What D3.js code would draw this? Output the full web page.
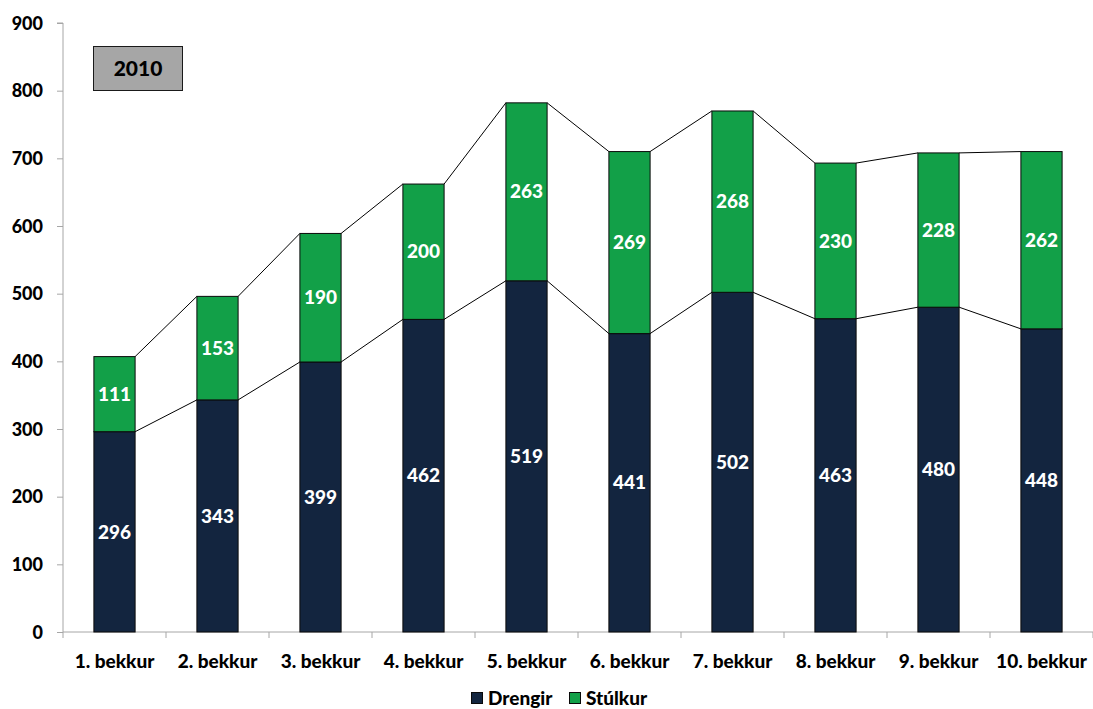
<!DOCTYPE html>
<html><head><meta charset="utf-8">
<script src="https://cdn.jsdelivr.net/npm/d3@7"></script>
<style>
html,body{margin:0;padding:0;background:#fff;}
svg text{font-family:Lato,"Open Sans",sans-serif;font-weight:900;}
</style></head>
<body>
<svg id="c" width="1093" height="709"></svg>
<script>
const categories = ["1. bekkur","2. bekkur","3. bekkur","4. bekkur","5. bekkur","6. bekkur","7. bekkur","8. bekkur","9. bekkur","10. bekkur"];
const drengir = [296,343,399,462,519,441,502,463,480,448];
const stulkur = [111,153,190,200,263,269,268,230,228,262];
const seriesNames = ["Drengir","Stúlkur"];
const seriesColors = ["#13253f","#12a048"];
const yTicks = [0,100,200,300,400,500,600,700,800,900];
const title = "2010";

const svg = d3.select("#c");
const x = d3.scaleBand().domain(categories).range([63,1093]);
const y = d3.scaleLinear().domain([0,900]).range([632,23]);
const bw = x.step()*0.4;
const cx = c => x(c) + x.step()/2;

// axes
const yAxis = svg.append("g").attr("transform","translate(63,0)")
  .call(d3.axisLeft(y).tickValues(yTicks).tickSize(6).tickPadding(14).tickFormat(d3.format("d")));
yAxis.select(".domain").attr("stroke","#a6a6a6").attr("d","M-6,"+y(900)+"H0V"+y(0));
yAxis.selectAll(".tick line").attr("stroke","#a6a6a6");
yAxis.selectAll(".tick text").attr("fill","#000").attr("font-size",18).attr("dy","0.35em").attr("y",0);

const xg = svg.append("g");
xg.append("line").attr("x1",63).attr("x2",1093).attr("y1",y(0)).attr("y2",y(0)).attr("stroke","#a6a6a6");
const bounds = categories.map(c=>x(c)).concat([x.range()[1]]);
xg.selectAll("line.t").data(bounds).enter().append("line")
  .attr("x1",d=>d).attr("x2",d=>d).attr("y1",y(0)).attr("y2",y(0)+6).attr("stroke","#a6a6a6");
xg.selectAll("text").data(categories).enter().append("text")
  .attr("x",d=>cx(d)).attr("y",661).attr("dy","0.35em").attr("text-anchor","middle").attr("font-size",19).text(d=>d);

// connector lines
const totals = categories.map((c,i)=>drengir[i]+stulkur[i]);
function connectors(vals){
  const segs=[];
  for(let i=0;i<categories.length-1;i++){
    segs.push([cx(categories[i])+bw/2, y(vals[i]), cx(categories[i+1])-bw/2, y(vals[i+1])]);
  }
  svg.append("g").selectAll("line").data(segs).enter().append("line")
    .attr("x1",d=>d[0]).attr("y1",d=>d[1]).attr("x2",d=>d[2]).attr("y2",d=>d[3])
    .attr("stroke","#000").attr("stroke-width",1);
}
connectors(drengir);
connectors(totals);

// bars
const g = svg.append("g");
categories.forEach((c,i)=>{
  const x0 = cx(c)-bw/2;
  g.append("rect").attr("x",x0).attr("y",y(drengir[i])).attr("width",bw)
   .attr("height",y(0)-y(drengir[i])).attr("fill",seriesColors[0]).attr("stroke","#0a0a0a").attr("stroke-width",1);
  g.append("rect").attr("x",x0).attr("y",y(totals[i])).attr("width",bw)
   .attr("height",y(drengir[i])-y(totals[i])).attr("fill",seriesColors[1]).attr("stroke","#0a0a0a").attr("stroke-width",1);
  g.append("text").attr("x",cx(c)).attr("y",y(drengir[i]/2)).attr("dy","0.35em")
   .attr("text-anchor","middle").attr("fill","#fff").attr("font-size",19).text(drengir[i]);
  g.append("text").attr("x",cx(c)).attr("y",y(drengir[i]+stulkur[i]/2)).attr("dy","0.35em")
   .attr("text-anchor","middle").attr("fill","#fff").attr("font-size",19).text(stulkur[i]);
});

// title box
svg.append("rect").attr("x",93.5).attr("y",46.5).attr("width",89).attr("height",44)
  .attr("fill","#a6a6a6").attr("stroke","#1a1a1a").attr("stroke-width",1);
svg.append("text").attr("x",138).attr("y",69).attr("dy","0.35em").attr("text-anchor","middle")
  .attr("font-size",21).attr("fill","#000").text(title);

// legend
const leg = [{x:471,tx:488},{x:569,tx:586}];
seriesNames.forEach((n,i)=>{
  svg.append("rect").attr("x",leg[i].x+0.5).attr("y",692.5).attr("width",11).attr("height",11)
    .attr("fill",seriesColors[i]).attr("stroke","#0a0a0a").attr("stroke-width",1);
  svg.append("text").attr("x",leg[i].tx).attr("y",698).attr("dy","0.35em").attr("font-size",19)
    .attr("fill","#000").text(n);
});
</script>
</body></html>
